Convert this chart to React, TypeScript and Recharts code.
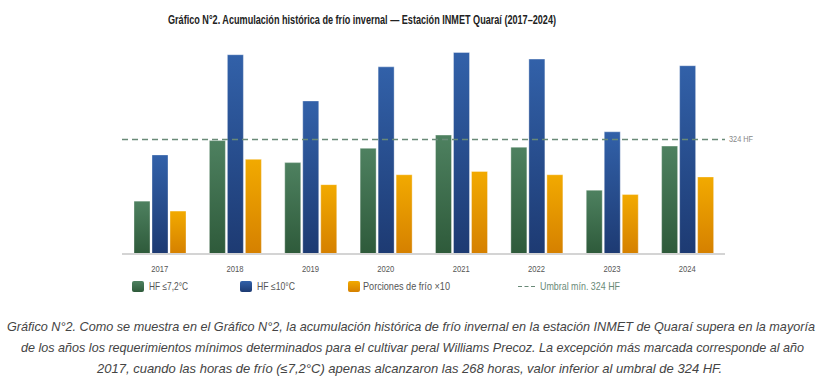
import React from 'react';
import { BarChart, Bar, XAxis, YAxis, ReferenceLine } from 'recharts';

const years = ['2017', '2018', '2019', '2020', '2021', '2022', '2023', '2024'];
const hf72 = [268, 323, 303, 316, 328, 317, 278, 318];
const hf10 = [310, 401, 359, 390, 403, 397, 331, 391];
const porciones10 = [259, 306, 283, 292, 295, 292, 274, 290];
const umbral = 324;

const titleText = 'Gráfico N°2. Acumulación histórica de frío invernal — Estación INMET Quaraí (2017–2024)';
const captionLines = [
  'Gráfico N°2. Como se muestra en el Gráfico N°2, la acumulación histórica de frío invernal en la estación INMET de Quaraí supera en la mayoría',
  'de los años los requerimientos mínimos determinados para el cultivar peral Williams Precoz. La excepción más marcada corresponde al año',
  '2017, cuando las horas de frío (≤7,2°C) apenas alcanzaron las 268 horas, valor inferior al umbral de 324 HF.',
];
const legendLabels = ['HF ≤7,2°C', 'HF ≤10°C', 'Porciones de frío ×10', 'Umbral mín. 324 HF'];

const data = years.map((y, i) => ({ year: y, hf72: hf72[i], hf10: hf10[i], porc: porciones10[i] }));

const FONT = '"Liberation Sans", Arial, sans-serif';

const capLayout = [
  { x: 7, w: 808, y: 331 },
  { x: 21, w: 783, y: 352 },
  { x: 97, w: 625, y: 373 },
];

const Tick = (props: any) => {
  const { x, y, payload } = props;
  return (
    <text x={x - 8.5} y={y + 10} textLength={17} lengthAdjust="spacingAndGlyphs" fontSize={9} fill="#555" fontFamily={FONT}>
      {payload.value}
    </text>
  );
};

const RefLabel = (props: any) => {
  const vb = props.viewBox || {};
  const x = (vb.x || 0) + (vb.width || 0) + 4;
  const y = (vb.y || 0) + 3;
  return (
    <text x={x} y={y} textLength={24} lengthAdjust="spacingAndGlyphs" fontSize={9} fill="#888" fontFamily={FONT}>
      324 HF
    </text>
  );
};

const Grad = ({ id, top, bottom }: { id: string; top: string; bottom: string }) => (
  <linearGradient id={id} x1="0" y1="0" x2="0" y2="1">
    <stop offset="0%" stopColor={top} />
    <stop offset="100%" stopColor={bottom} />
  </linearGradient>
);

export default function App() {
  return (
    <div style={{ position: 'absolute', left: 0, top: 0, width: 822, height: 392, background: '#fff', fontFamily: FONT }}>
      <div style={{ position: 'absolute', left: 0, top: 0 }}>
        <BarChart width={822} height={300} data={data} margin={{ top: 36, right: 97, left: 122, bottom: 26 }} barSize={16} barGap={2}>
          <defs>
            <Grad id="gGreen" top="#4e8160" bottom="#2e5a3a" />
            <Grad id="gBlue" top="#3261a9" bottom="#1d3a72" />
            <Grad id="gOrange" top="#f2aa00" bottom="#d58000" />
          </defs>
          <XAxis dataKey="year" height={20} tickLine={false} axisLine={{ stroke: '#d4d4d4', strokeWidth: 2 }} tick={<Tick />} interval={0} />
          <YAxis width={0} domain={[220, 418]} tick={false} tickLine={false} axisLine={{ stroke: '#dcdcdc', strokeWidth: 2 }} allowDataOverflow />
          <Bar dataKey="hf72" fill="url(#gGreen)" stroke="rgba(255,255,255,0.35)" strokeWidth={1} isAnimationActive={false} />
          <Bar dataKey="hf10" fill="url(#gBlue)" stroke="rgba(255,255,255,0.35)" strokeWidth={1} isAnimationActive={false} />
          <Bar dataKey="porc" fill="url(#gOrange)" stroke="rgba(255,255,255,0.35)" strokeWidth={1} isAnimationActive={false} />
          <ReferenceLine y={umbral} stroke="#6a8a78" strokeWidth={1.5} strokeDasharray="6 4" ifOverflow="visible" label={<RefLabel />} />
        </BarChart>
      </div>
      <svg width={822} height={392} style={{ position: 'absolute', left: 0, top: 0, pointerEvents: 'none' }}>
        <defs>
          <Grad id="lGreen" top="#4e8160" bottom="#2e5a3a" />
          <Grad id="lBlue" top="#3261a9" bottom="#1d3a72" />
          <Grad id="lOrange" top="#f2aa00" bottom="#d58000" />
        </defs>
        <text x={168} y={24} textLength={388} lengthAdjust="spacingAndGlyphs" fontSize={12.5} fontWeight="bold" fill="#222" fontFamily={FONT}>
          {titleText}
        </text>
        <rect x={132} y={281} width={12} height={11} rx={2} fill="url(#lGreen)" />
        <text x={149} y={290} textLength={39} lengthAdjust="spacingAndGlyphs" fontSize={10.5} fill="#555" fontFamily={FONT}>{legendLabels[0]}</text>
        <rect x={240} y={281} width={12} height={11} rx={2} fill="url(#lBlue)" />
        <text x={257} y={290} textLength={38} lengthAdjust="spacingAndGlyphs" fontSize={10.5} fill="#555" fontFamily={FONT}>{legendLabels[1]}</text>
        <rect x={348} y={281} width={12} height={11} rx={2} fill="url(#lOrange)" />
        <text x={363} y={290} textLength={87} lengthAdjust="spacingAndGlyphs" fontSize={10.5} fill="#555" fontFamily={FONT}>{legendLabels[2]}</text>
        <line x1={518} y1={286.5} x2={535} y2={286.5} stroke="#6a8a78" strokeWidth={1} strokeDasharray="4 2.5" />
        <text x={540} y={290} textLength={80} lengthAdjust="spacingAndGlyphs" fontSize={10.5} fill="#6a8a78" fontFamily={FONT}>{legendLabels[3]}</text>
        {captionLines.map((line, i) => (
          <text key={i} x={capLayout[i].x} y={capLayout[i].y} textLength={capLayout[i].w} lengthAdjust="spacingAndGlyphs"
            fontSize={12.6} fontStyle="italic" fill="#444" fontFamily={FONT}>
            {line}
          </text>
        ))}
      </svg>
    </div>
  );
}
